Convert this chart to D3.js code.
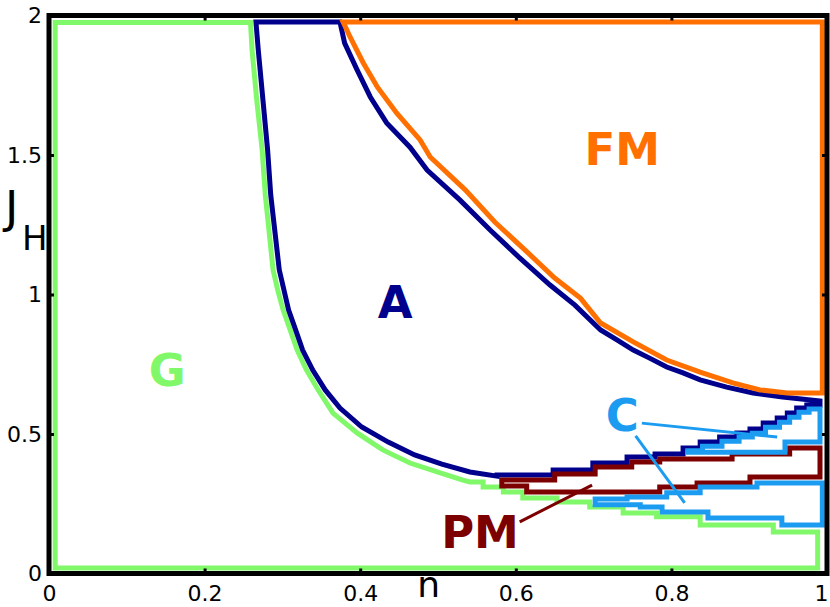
<!DOCTYPE html>
<html>
<head>
<meta charset="utf-8">
<script src="https://cdn.jsdelivr.net/npm/d3@7"></script>
<style>
  body { margin: 0; background: #fff; }
  svg { display: block; }
  .tick text { font-family: "DejaVu Sans", sans-serif; font-size: 22px; fill: #000; }
  .phase { fill: none; stroke-width: 5; stroke-linejoin: miter; stroke-linecap: square; }
  .tag { font-family: "DejaVu Sans", sans-serif; font-weight: bold; font-size: 45px; text-anchor: middle; }
</style>
</head>
<body>
<div id="chart"></div>
<script>
// axis ticks
const xTicks = [0, 0.2, 0.4, 0.6, 0.8, 1];
const xTickLabels = ["0", "0.2", "0.4", "0.6", "0.8", "1"];
const yTicks = [0, 0.5, 1, 1.5, 2];
const yTickLabels = ["0", "0.5", "1", "1.5", "2"];

// G region (green) : frame edges + boundary curve [n, J]
const gEdge = { left: 0.008, right: 0.988, top: 1.975, bottom: 0.020 };
const gCurve = [
  [0.259, 1.975], [0.261, 1.876], [0.267, 1.697], [0.274, 1.518], [0.278, 1.357],
  [0.288, 1.088], [0.294, 1.016], [0.301, 0.944], [0.310, 0.873], [0.319, 0.801],
  [0.331, 0.729], [0.346, 0.658], [0.365, 0.575], [0.396, 0.504], [0.429, 0.443],
  [0.464, 0.396], [0.499, 0.364], [0.532, 0.335]
];
// stepped part: [n where step starts, J]
const gSteps = [
  [0.541, 0.328], [0.558, 0.310], [0.584, 0.292], [0.609, 0.271], [0.653, 0.256],
  [0.695, 0.238], [0.738, 0.217], [0.781, 0.203], [0.837, 0.174], [0.931, 0.149]
];

// A region (navy)
const aLeftCurve = [
  [0.266, 1.977], [0.269, 1.876], [0.275, 1.697], [0.281, 1.518], [0.285, 1.357],
  [0.296, 1.088], [0.302, 1.016], [0.308, 0.944], [0.317, 0.873], [0.326, 0.801],
  [0.339, 0.729], [0.355, 0.658], [0.374, 0.593], [0.402, 0.525], [0.436, 0.471],
  [0.470, 0.425], [0.505, 0.392], [0.541, 0.364], [0.576, 0.349]
];
const aSteps = [
  [0.576, 0.353], [0.648, 0.371], [0.699, 0.396], [0.743, 0.418], [0.779, 0.428],
  [0.815, 0.450], [0.837, 0.471], [0.862, 0.489], [0.884, 0.504], [0.901, 0.518],
  [0.918, 0.539], [0.936, 0.557], [0.949, 0.575], [0.961, 0.593], [0.974, 0.604]
];
const aRight = 0.991;
const aTopCurve = [
  [0.374, 1.977], [0.380, 1.901], [0.396, 1.805], [0.413, 1.708], [0.434, 1.615],
  [0.464, 1.528], [0.486, 1.446], [0.528, 1.339], [0.567, 1.231], [0.605, 1.131],
  [0.644, 1.034], [0.676, 0.962], [0.709, 0.873], [0.730, 0.837], [0.751, 0.801],
  [0.772, 0.772], [0.794, 0.740], [0.815, 0.719], [0.837, 0.694], [0.871, 0.668],
  [0.905, 0.647], [0.943, 0.633], [0.991, 0.618]
];

// FM region (orange)
const fmEdge = { right: 0.994, top: 1.977 };
const fmCurve = [
  [0.991, 0.647], [0.949, 0.647], [0.914, 0.658], [0.879, 0.683], [0.837, 0.722],
  [0.794, 0.765], [0.751, 0.830], [0.709, 0.898], [0.683, 0.987], [0.650, 1.059],
  [0.612, 1.159], [0.573, 1.260], [0.535, 1.375], [0.490, 1.493], [0.477, 1.554],
  [0.447, 1.650], [0.422, 1.744], [0.404, 1.830], [0.387, 1.923], [0.378, 1.977]
];

// PM region (dark red)
const pmUpper = [
  [0.582, 0.335], [0.650, 0.357], [0.702, 0.382], [0.749, 0.400], [0.785, 0.410],
  [0.878, 0.428], [0.952, 0.450]
];
const pmLower = [
  [0.582, 0.314], [0.614, 0.292], [0.785, 0.310], [0.833, 0.324], [0.901, 0.346]
];
const pmRight = 0.991;

// C regions (light blue)
const cLowTop = [
  [0.702, 0.267], [0.743, 0.274], [0.794, 0.289], [0.837, 0.310], [0.910, 0.324]
];
const cLowBottom = [
  [0.702, 0.246], [0.760, 0.238], [0.788, 0.220], [0.847, 0.199], [0.942, 0.174]
];
const cLowRight = 0.994;
const cUpTop = [
  [0.821, 0.440], [0.840, 0.456], [0.865, 0.474], [0.887, 0.489], [0.904, 0.503],
  [0.921, 0.524], [0.939, 0.542], [0.952, 0.560], [0.964, 0.578], [0.977, 0.590]
];
const cUpBottom = [[0.821, 0.435], [0.946, 0.471]];
const cUpRight = 0.991;

// phase names and label anchors [n, J]
const tags = [
  { text: "G", at: [0.152, 0.672], color: "#80f86a" },
  { text: "A", at: [0.445, 0.916], color: "#00008c" },
  { text: "FM", at: [0.737, 1.464], color: "#ff7000" },
  { text: "C", at: [0.737, 0.511], color: "#1c9cf0" },
  { text: "PM", at: [0.554, 0.091], color: "#7d0000" }
];
const leaders = [
  { from: [0.762, 0.539], to: [0.936, 0.489], color: "#1c9cf0" },
  { from: [0.754, 0.493], to: [0.817, 0.253], color: "#1c9cf0" },
  { from: [0.605, 0.185], to: [0.698, 0.317], color: "#7d0000" }
];

const width = 830, height = 607;

const svg = d3.select("#chart")
  .append("svg")
  .attr("width", width)
  .attr("height", height);

const x = d3.scaleLinear().domain([0, 1]).range([49, 827]);
const y = d3.scaleLinear().domain([0, 2]).range([573.5, 15.5]);

const line = d3.line().x(d => x(d[0])).y(d => y(d[1]));

// turn [nStart, J] steps into corner points
function stairs(steps, nEnd) {
  const pts = [];
  steps.forEach((s, i) => {
    const next = i < steps.length - 1 ? steps[i + 1][0] : nEnd;
    pts.push([s[0], s[1]], [next, s[1]]);
  });
  return pts;
}

// G outline
const gOutline = [[gEdge.left, gEdge.bottom], [gEdge.left, gEdge.top]]
  .concat(gCurve)
  .concat(stairs(gSteps, gEdge.right))
  .concat([[gEdge.right, gEdge.bottom]]);

// A outline
const aOutline = aLeftCurve
  .concat(stairs(aSteps, aRight))
  .concat(aTopCurve.slice().reverse());

// FM outline
const fmOutline = [[fmCurve[fmCurve.length - 1][0], fmEdge.top], [fmEdge.right, fmEdge.top], [fmEdge.right, fmCurve[0][1]]]
  .concat(fmCurve);

const pmOutline = stairs(pmUpper, pmRight).concat(stairs(pmLower, pmRight).reverse());
const cLowOutline = stairs(cLowTop, cLowRight).concat(stairs(cLowBottom, cLowRight).reverse());
const cUpOutline = stairs(cUpTop, cUpRight).concat(stairs(cUpBottom, cUpRight).reverse());

const outlines = [
  { pts: gOutline, color: "#80f86a" },
  { pts: aOutline, color: "#00008c" },
  { pts: fmOutline, color: "#ff7000" },
  { pts: pmOutline, color: "#7d0000" },
  { pts: cLowOutline, color: "#1c9cf0" },
  { pts: cUpOutline, color: "#1c9cf0" }
];

svg.selectAll(".phase")
  .data(outlines)
  .enter()
  .append("path")
  .attr("class", "phase")
  .attr("d", d => line(d.pts) + "Z")
  .attr("stroke", d => d.color);

// leader lines
svg.selectAll(".leader")
  .data(leaders)
  .enter()
  .append("line")
  .attr("class", "leader")
  .attr("x1", d => x(d.from[0]))
  .attr("y1", d => y(d.from[1]))
  .attr("x2", d => x(d.to[0]))
  .attr("y2", d => y(d.to[1]))
  .attr("stroke", d => d.color)
  .attr("stroke-width", 3);

svg.selectAll(".tag")
  .data(tags)
  .enter()
  .append("text")
  .attr("class", "tag")
  .attr("x", d => x(d.at[0]))
  .attr("y", d => y(d.at[1]))
  .attr("fill", d => d.color)
  .text(d => d.text);

// axes (ticks point inward)
const xAxis = d3.axisBottom(x).tickValues(xTicks)
  .tickFormat((d, i) => xTickLabels[i]).tickSize(-5).tickPadding(12);
const yAxis = d3.axisLeft(y).tickValues(yTicks)
  .tickFormat((d, i) => yTickLabels[i]).tickSize(-5).tickPadding(7);

svg.append("g").attr("class", "axis x-axis")
  .attr("transform", "translate(0," + y(0) + ")")
  .call(xAxis);
svg.append("g").attr("class", "axis y-axis")
  .attr("transform", "translate(" + x(0) + ",0)")
  .call(yAxis);
svg.append("g").attr("class", "axis top-axis")
  .attr("transform", "translate(0," + y(2) + ")")
  .call(d3.axisTop(x).tickValues(xTicks).tickSize(-5).tickFormat(""));
svg.append("g").attr("class", "axis right-axis")
  .attr("transform", "translate(" + x(1) + ",0)")
  .call(d3.axisRight(y).tickValues(yTicks).tickSize(-5).tickFormat(""));

svg.selectAll(".axis .domain").remove();
svg.selectAll(".axis .tick line").attr("stroke", "#000").attr("stroke-width", 3);
// last x label sits against the right edge
svg.selectAll(".x-axis .tick text").filter((d, i) => i === xTicks.length - 1)
  .attr("text-anchor", "end").attr("dx", "1px");

// frame
svg.append("rect")
  .attr("x", x(0))
  .attr("y", y(2))
  .attr("width", x(1) - x(0))
  .attr("height", y(0) - y(2))
  .attr("fill", "none")
  .attr("stroke", "#000")
  .attr("stroke-width", 5);

// axis titles
svg.append("text")
  .attr("x", x(0.488))
  .attr("y", 597)
  .attr("text-anchor", "middle")
  .style("font-family", "DejaVu Sans, sans-serif")
  .style("font-size", "36px")
  .text("n");

const jLabel = svg.append("text")
  .attr("x", 5)
  .attr("y", 223)
  .style("font-family", "DejaVu Sans, sans-serif")
  .style("font-size", "45px")
  .text("J");
jLabel.append("tspan")
  .attr("x", 22)
  .attr("y", 250)
  .style("font-size", "34px")
  .text("H");
</script>
</body>
</html>
